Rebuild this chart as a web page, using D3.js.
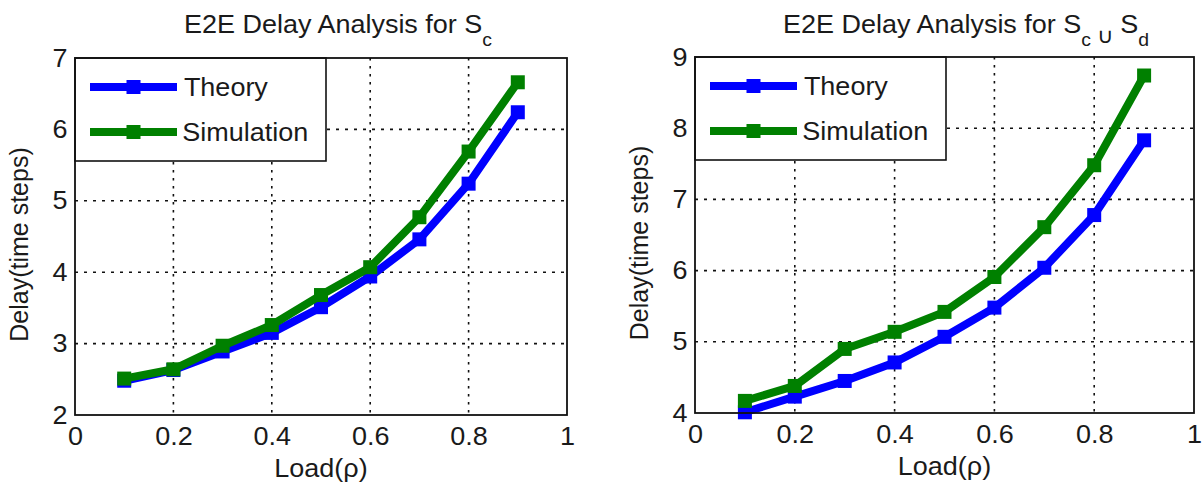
<!DOCTYPE html>
<html>
<head>
<meta charset="utf-8">
<script src="https://cdn.jsdelivr.net/npm/d3@7"></script>
<style>
  html, body { margin: 0; padding: 0; background: #fff; }
  svg text { font-family: "Liberation Sans", Arial, Helvetica, sans-serif; fill: #1a1a1a; }
  .wide { transform-box: fill-box; transform-origin: center; transform: scaleX(1.08); }
</style>
</head>
<body>
<svg id="chart" width="1204" height="485"></svg>
<script>
// Offered load values on the x axis
const loads = [0.1, 0.2, 0.3, 0.4, 0.5, 0.6, 0.7, 0.8, 0.9];
const xTicks = [0, 0.2, 0.4, 0.6, 0.8, 1];
const xTickLabels = ["0", "0.2", "0.4", "0.6", "0.8", "1"];

// End-to-end delay for S_c
const scTheory     = [2.48, 2.63, 2.89, 3.15, 3.51, 3.94, 4.46, 5.24, 6.24];
const scSimulation = [2.51, 2.64, 2.97, 3.26, 3.68, 4.07, 4.77, 5.69, 6.66];
const scYTicks = [2, 3, 4, 5, 6, 7];

// End-to-end delay for S_c ∪ S_d
const scdTheory     = [4.01, 4.23, 4.45, 4.71, 5.07, 5.48, 6.04, 6.78, 7.83];
const scdSimulation = [4.17, 4.38, 4.90, 5.14, 5.42, 5.91, 6.61, 7.48, 8.74];
const scdYTicks = [4, 5, 6, 7, 8, 9];

const seriesNames  = ["Theory", "Simulation"];
const seriesColors = ["#0000ff", "#008000"];

const xLabel = "Load(\u03c1)";
const yLabel = "Delay(time steps)";

const svg = d3.select("#chart");
const FONT = 25;

function drawPanel(p) {
  const x = d3.scaleLinear().domain([0, 1]).range([p.left, p.right]);
  const y = d3.scaleLinear().domain(p.yDomain).range([p.bottom, p.top]);
  const g = svg.append("g");

  // dotted grid
  g.append("g").selectAll("line.h")
    .data(p.yTicks.filter(v => v > p.yDomain[0] && v < p.yDomain[1]))
    .join("line")
    .attr("x1", p.left).attr("x2", p.right)
    .attr("y1", d => y(d)).attr("y2", d => y(d))
    .attr("stroke", "#111").attr("stroke-width", 1.6)
    .attr("stroke-dasharray", "3,6");
  g.append("g").selectAll("line.v")
    .data(xTicks.filter(v => v > 0 && v < 1))
    .join("line")
    .attr("y1", p.top).attr("y2", p.bottom)
    .attr("x1", d => x(d)).attr("x2", d => x(d))
    .attr("stroke", "#111").attr("stroke-width", 1.6)
    .attr("stroke-dasharray", "2.5,5.5");

  // axes (labels only, frame drawn separately)
  const ax = g.append("g").attr("transform", `translate(0,${p.bottom})`)
    .call(d3.axisBottom(x).tickValues(xTicks).tickFormat((d, i) => xTickLabels[i])
      .tickSize(0).tickPadding(12));
  const ay = g.append("g").attr("transform", `translate(${p.left},0)`)
    .call(d3.axisLeft(y).tickValues(p.yTicks).tickFormat(d3.format("d"))
      .tickSize(0).tickPadding(8));
  [ax, ay].forEach(a => {
    a.select(".domain").remove();
    a.selectAll("text").attr("font-size", FONT).attr("fill", "#1a1a1a")
      .style("font-family", "'Liberation Sans', Arial, sans-serif").attr("class", "wide");
  });

  // series
  const line = d3.line().x((d, i) => x(loads[i])).y(d => y(d));
  p.series.forEach((vals, k) => {
    g.append("path").datum(vals)
      .attr("d", line).attr("fill", "none")
      .attr("stroke", seriesColors[k]).attr("stroke-width", 8)
      .attr("stroke-linejoin", "round");
    g.append("g").selectAll("rect").data(vals).join("rect")
      .attr("x", (d, i) => x(loads[i]) - 7).attr("y", d => y(d) - 7)
      .attr("width", 14).attr("height", 14)
      .attr("fill", seriesColors[k]);
  });

  // legend
  const lg = g.append("g").attr("transform", `translate(${p.left},${p.top})`);
  lg.append("rect").attr("x", 0).attr("y", 0).attr("width", 251).attr("height", 103)
    .attr("fill", "#fff").attr("stroke", "#111").attr("stroke-width", 1.6);
  seriesNames.forEach((name, k) => {
    const cy = 29 + k * 45;
    lg.append("line").attr("x1", 15).attr("x2", 102).attr("y1", cy).attr("y2", cy)
      .attr("stroke", seriesColors[k]).attr("stroke-width", 8);
    lg.append("rect").attr("x", 58.5 - 7).attr("y", cy - 7).attr("width", 14).attr("height", 14)
      .attr("fill", seriesColors[k]);
    lg.append("text").attr("class", "wide").attr("x", 112).attr("y", cy + 9)
      .attr("font-size", FONT).text(name);
  });

  // frame
  g.append("rect").attr("x", p.left).attr("y", p.top)
    .attr("width", p.right - p.left).attr("height", p.bottom - p.top)
    .attr("fill", "none").attr("stroke", "#111").attr("stroke-width", 1.8);

  // title with subscripts
  const t = g.append("text").attr("class", "wide").attr("text-anchor", "middle")
    .attr("x", p.titleX).attr("y", 33).attr("font-size", FONT);
  p.title.forEach(part => {
    t.append("tspan").attr("dy", part.dy || 0)
      .attr("font-size", part.size || (part.sub ? 18 : FONT)).text(part.text);
  });

  // axis titles
  g.append("text").attr("class", "wide").attr("text-anchor", "middle")
    .attr("x", (p.left + p.right) / 2).attr("y", p.bottom + 62)
    .attr("font-size", FONT).text(xLabel);
  g.append("text").attr("text-anchor", "middle")
    .attr("transform", `translate(${p.left - 47},${(p.top + p.bottom) / 2 + 8}) rotate(-90)`)
    .attr("font-size", FONT).text(yLabel);
}

drawPanel({
  left: 75, right: 567, top: 58, bottom: 415, yDomain: [2, 7], yTicks: scYTicks,
  series: [scTheory, scSimulation], titleX: 338,
  title: [{ text: "E2E Delay Analysis for S" }, { text: "c", sub: true, dy: 13 }]
});

drawPanel({
  left: 695, right: 1194, top: 57, bottom: 413, yDomain: [4, 9], yTicks: scdYTicks,
  series: [scdTheory, scdSimulation], titleX: 966,
  title: [
    { text: "E2E Delay Analysis for S" },
    { text: "c", sub: true, dy: 13 },
    { text: " \u222a ", size: 21, dy: -3 },
    { text: "S", dy: -10 },
    { text: "d", sub: true, dy: 13 }
  ]
});
</script>
</body>
</html>
